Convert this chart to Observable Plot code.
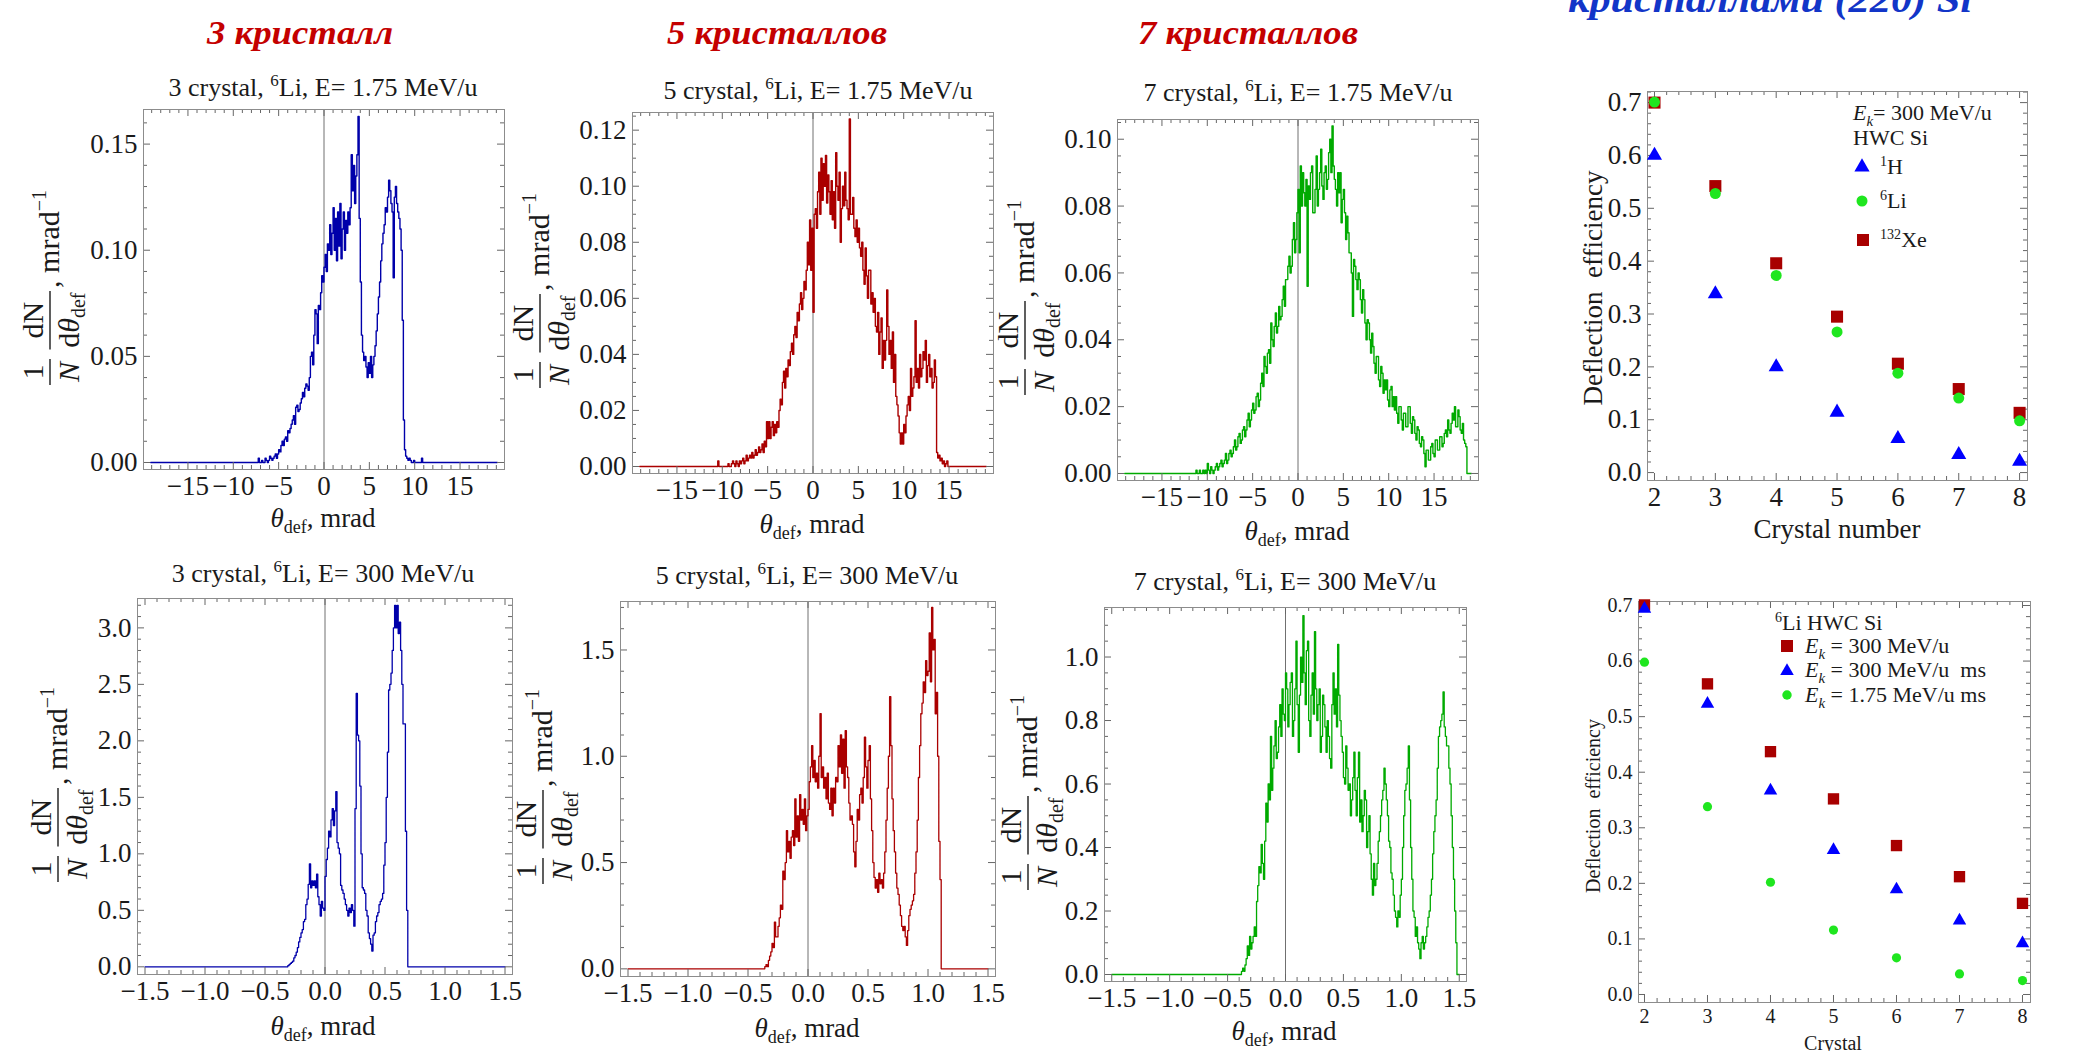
<!DOCTYPE html>
<html><head><meta charset="utf-8">
<script src="https://cdn.jsdelivr.net/npm/d3@7"></script>
<script src="https://cdn.jsdelivr.net/npm/@observablehq/plot@0.6"></script>
<style>
body{margin:0;background:#fff;}
#root{position:relative;width:2074px;height:1051px;overflow:hidden;background:#fff;}
#root svg{position:absolute;}
</style></head><body><div id="root"></div>
<script>
// ---------------- DATA ----------------
// Top row: 6Li, E = 1.75 MeV/u, histograms (bin start, bin width, values)
const p1Start = -7.5, p1Step = 0.125;
const p1Vals = [0,0,0.002,0,0,0.001,0,0,
 0.002,0.001,0,0.001,0.003,0.002,0.001,0.002,
 0.003,0.004,0.002,0.004,0.006,0.005,0.008,0.010,
 0.008,0.011,0.012,0.010,0.015,0.014,0.016,0.018,
 0.020,0.022,0.018,0.026,0.027,0.024,0.025,0.028,
 0.030,0.033,0.031,0.035,0.037,0.036,0.034,0.040,
 0.050,0.052,0.046,0.060,0.072,0.070,0.056,0.074,
 0.072,0.080,0.088,0.085,0.092,0.098,0.090,0.103,
 0.100,0.112,0.098,0.108,0.120,0.100,0.115,0.095,
 0.118,0.102,0.122,0.096,0.110,0.118,0.100,0.114,
 0.108,0.118,0.112,0.120,0.145,0.128,0.140,0.122,
 0.135,0.145,0.163,0.115,0.085,0.060,0.052,0.048,
 0.050,0.045,0.040,0.047,0.042,0.050,0.040,0.046,
 0.050,0.055,0.062,0.070,0.078,0.085,0.095,0.103,
 0.108,0.112,0.120,0.118,0.125,0.133,0.128,0.122,
 0.118,0.087,0.125,0.130,0.122,0.118,0.115,0.110,
 0.100,0.067,0.020,0.006,0.003,0.002,0.001,0.002,
 0.001,0,0,0.001,0,0,0,0,
 0,0,0.002,0];
const p2Start = -10.75, p2Step = 0.125;
const p2Vals = [0,0,0.002,0,0,0,0,0,
 0,0,0,0.001,0,0,0.001,0.002,
 0.001,0,0.002,0.001,0,0.002,0.001,0.002,
 0.003,0.001,0.002,0.004,0.002,0.003,0.004,0.003,
 0.005,0.003,0.004,0.006,0.004,0.005,0.007,0.005,
 0.006,0.008,0.005,0.009,0.007,0.016,0.010,0.016,
 0.010,0.014,0.016,0.011,0.015,0.012,0.016,0.014,
 0.020,0.024,0.022,0.030,0.034,0.028,0.035,0.032,
 0.038,0.036,0.041,0.044,0.040,0.047,0.050,0.046,
 0.055,0.052,0.058,0.062,0.056,0.060,0.066,0.063,
 0.070,0.080,0.072,0.088,0.070,0.085,0.055,0.090,
 0.092,0.085,0.098,0.105,0.090,0.110,0.095,0.108,
 0.100,0.111,0.094,0.104,0.098,0.090,0.102,0.088,
 0.098,0.085,0.112,0.100,0.095,0.105,0.080,0.092,
 0.100,0.093,0.105,0.095,0.092,0.088,0.124,0.090,
 0.090,0.096,0.085,0.082,0.088,0.080,0.085,0.078,
 0.075,0.080,0.070,0.065,0.078,0.068,0.060,0.070,
 0.070,0.058,0.062,0.055,0.060,0.050,0.048,0.055,
 0.040,0.048,0.053,0.035,0.045,0.038,0.045,0.063,
 0.050,0.040,0.045,0.035,0.048,0.030,0.040,0.025,
 0.022,0.018,0.012,0.008,0.012,0.008,0.015,0.012,
 0.018,0.022,0.025,0.020,0.035,0.025,0.028,0.032,
 0.052,0.030,0.035,0.028,0.040,0.032,0.035,0.041,
 0.038,0.045,0.030,0.036,0.040,0.032,0.035,0.028,
 0.030,0.038,0.032,0.005,0.003,0.004,0.002,0.003,
 0.001,0.002,0,0.001,0.002];
const p3Start = -11.25, p3Step = 0.125;
const p3Vals = [0.001,0,0,0.001,0,0,0.001,0,
 0.001,0,0.003,0.001,0,0.002,0.001,0,
 0.001,0.002,0.003,0.001,0.002,0.003,0.004,0.002,
 0.003,0.004,0.006,0.003,0.004,0.006,0.007,0.005,
 0.006,0.008,0.010,0.007,0.008,0.011,0.012,0.009,
 0.010,0.013,0.014,0.011,0.013,0.016,0.018,0.014,
 0.016,0.019,0.021,0.018,0.019,0.023,0.024,0.020,
 0.022,0.027,0.030,0.026,0.035,0.032,0.030,0.036,
 0.037,0.033,0.045,0.040,0.038,0.044,0.048,0.042,
 0.044,0.050,0.046,0.047,0.052,0.056,0.050,0.058,
 0.058,0.062,0.065,0.060,0.062,0.070,0.075,0.066,
 0.070,0.078,0.085,0.066,0.092,0.080,0.090,0.084,
 0.080,0.088,0.056,0.086,0.082,0.090,0.092,0.078,
 0.078,0.085,0.095,0.080,0.085,0.090,0.097,0.086,
 0.082,0.090,0.092,0.085,0.088,0.096,0.100,0.090,
 0.104,0.092,0.088,0.085,0.080,0.090,0.084,0.090,
 0.075,0.082,0.085,0.078,0.070,0.077,0.072,0.066,
 0.066,0.060,0.047,0.064,0.062,0.058,0.055,0.060,
 0.058,0.052,0.048,0.055,0.052,0.045,0.040,0.046,
 0.045,0.040,0.036,0.042,0.038,0.033,0.030,0.035,
 0.035,0.028,0.026,0.032,0.030,0.024,0.028,0.025,
 0.028,0.022,0.020,0.025,0.026,0.020,0.023,0.019,
 0.023,0.018,0.015,0.020,0.020,0.016,0.013,0.018,
 0.018,0.014,0.014,0.020,0.020,0.015,0.012,0.017,
 0.016,0.012,0.010,0.014,0.013,0.009,0.008,0.011,
 0.010,0.006,0.002,0.007,0.007,0.004,0.004,0.008,
 0.009,0.006,0.005,0.010,0.010,0.007,0.007,0.011,
 0.011,0.008,0.009,0.012,0.013,0.011,0.016,0.013,
 0.012,0.015,0.018,0.016,0.020,0.014,0.014,0.019,
 0.017,0.013,0.012,0.015,0.010,0.009,0.008];
// Bottom row: 6Li, E = 300 MeV/u
const p4Start = -0.31, p4Step = 0.01;
const p4Vals = [0.01,0.02,0.03,0.04,0.05,0.08,0.10,0.13,0.17,0.22,
 0.26,0.30,0.33,0.40,0.42,0.55,0.60,0.73,0.91,0.70,
 0.76,0.72,0.76,0.70,0.82,0.62,0.55,0.45,0.58,0.52,
 0.50,0.80,0.95,1.05,1.20,1.15,1.30,1.40,1.25,1.38,
 1.55,1.10,1.05,1.00,0.72,0.68,0.65,0.60,0.55,0.50,
 0.45,0.52,0.48,0.55,0.50,0.36,1.40,2.42,2.05,2.00,
 1.60,1.00,0.70,0.68,0.65,0.50,0.45,0.30,0.25,0.20,
 0.14,0.28,0.30,0.40,0.45,0.48,0.55,0.58,0.60,0.65,
 0.90,1.10,1.50,1.90,2.45,2.50,2.60,2.80,3.00,3.20,
 3.00,3.20,2.95,3.05,2.80,2.50,2.15,2.15,1.20,0.50];
const p5Start = -0.36, p5Step = 0.01;
const p5Vals = [0.01,0.02,0.01,0.04,0.06,0.08,0.12,0.10,0.22,0.15,
 0.15,0.20,0.24,0.30,0.28,0.46,0.42,0.50,0.65,0.55,
 0.60,0.52,0.62,0.65,0.58,0.80,0.62,0.72,0.60,0.82,
 0.70,0.75,0.68,0.80,0.65,0.72,0.75,0.88,0.95,1.05,
 0.90,0.98,0.88,0.92,0.85,1.00,1.20,0.90,0.95,0.85,
 0.90,0.80,0.92,0.78,0.75,0.85,0.72,0.85,0.78,0.90,
 0.88,1.05,0.95,1.10,0.92,1.08,0.85,1.12,0.95,0.90,
 0.78,0.70,0.72,0.68,0.55,0.48,0.60,0.75,0.70,0.82,
 0.85,0.78,0.90,1.09,0.95,0.85,0.98,1.05,0.80,0.65,
 0.50,0.43,0.38,0.42,0.36,0.45,0.40,0.42,0.38,0.45,
 0.55,0.70,0.85,1.00,1.28,1.05,0.80,0.65,0.55,0.45,
 0.38,0.35,0.30,0.25,0.20,0.18,0.20,0.15,0.11,0.18,
 0.25,0.28,0.30,0.32,0.35,0.45,0.55,0.70,0.90,1.05,
 1.20,1.25,1.35,1.30,1.45,1.38,1.40,1.58,1.35,1.70,
 1.50,1.55,1.20,1.30,1.00,0.60,0.42];
const p6Start = -0.38, p6Step = 0.01;
const p6Vals = [0.01,0.02,0.01,0.03,0.05,0.09,0.06,0.12,0.08,0.10,
 0.12,0.15,0.12,0.23,0.28,0.34,0.32,0.41,0.35,0.30,
 0.42,0.54,0.48,0.60,0.55,0.75,0.58,0.65,0.72,0.80,
 0.68,0.70,0.78,0.85,0.75,0.90,0.82,0.80,0.95,0.90,
 0.78,0.85,0.92,0.95,0.75,0.80,0.90,1.05,0.85,0.70,
 0.88,1.00,0.92,1.13,0.95,0.85,1.02,1.05,0.80,0.75,
 0.88,0.95,0.82,1.08,0.90,0.80,0.85,0.90,0.70,0.75,
 0.88,0.85,0.78,0.70,0.80,0.75,0.68,0.65,0.85,0.95,
 0.82,0.90,0.78,1.04,0.88,0.80,0.75,0.70,0.62,0.60,
 0.72,0.65,0.58,0.60,0.50,0.55,0.62,0.70,0.58,0.50,
 0.62,0.70,0.48,0.55,0.45,0.50,0.58,0.55,0.40,0.45,
 0.50,0.38,0.30,0.25,0.35,0.28,0.30,0.35,0.42,0.45,
 0.50,0.55,0.58,0.65,0.60,0.55,0.50,0.42,0.40,0.32,
 0.30,0.25,0.20,0.18,0.15,0.20,0.18,0.25,0.30,0.40,
 0.50,0.58,0.60,0.65,0.72,0.55,0.40,0.30,0.20,0.18,
 0.12,0.15,0.10,0.08,0.05,0.10,0.12,0.08,0.10,0.12,
 0.15,0.18,0.20,0.25,0.30,0.38,0.45,0.50,0.55,0.65,
 0.75,0.78,0.80,0.82,0.89,0.78,0.75,0.72,0.72,0.65,
 0.60,0.50,0.40,0.30,0.20,0.10];

// Deflection efficiency vs crystal number
const crystals = [2,3,4,5,6,7,8];
const effH = [0.600,0.338,0.200,0.114,0.064,0.034,0.021];      // 1H, 300 MeV/u
const effLi = [0.701,0.528,0.373,0.266,0.188,0.141,0.098];     // 6Li, 300 MeV/u
const effXe = [0.700,0.542,0.396,0.295,0.206,0.158,0.113];     // 132Xe, 300 MeV/u
const eff300 = [0.701,0.559,0.437,0.352,0.268,0.212,0.164];    // 6Li 300 MeV/u
const eff300ms = [0.694,0.523,0.367,0.260,0.189,0.133,0.092];  // 6Li 300 MeV/u ms
const eff175ms = [0.598,0.338,0.202,0.116,0.066,0.037,0.025];  // 6Li 1.75 MeV/u ms

const topXTicks = [-15,-10,-5,0,5,10,15];
const botXTicks = [-1.5,-1.0,-0.5,0,0.5,1.0,1.5];

// ---------------- HELPERS ----------------
const FONT = '"Liberation Serif","Times New Roman",serif';
const root = document.getElementById("root");

function rng(a, b, s) { const out = []; const n = Math.round((b - a) / s); for (let i = 0; i <= n; i++) out.push(+(a + i * s).toFixed(6)); return out; }
function minors(a, b, s, majors, dom) {
  return rng(a, b, s).filter(v => v >= dom[0] && v <= dom[1] && !majors.some(m => Math.abs(m - v) < 1e-9));
}
function histPoints(start, step, vals, lo, hi) {
  const pts = [{x: lo, y: 0}];
  vals.forEach((v, i) => pts.push({x: +(start + i * step).toFixed(4), y: v}));
  pts.push({x: +(start + vals.length * step).toFixed(4), y: 0});
  pts.push({x: hi, y: 0});
  return pts;
}
function tickMarks(xMaj, xMin, yMaj, yMin, fw, fh) {
  const st = {stroke: "#666", strokeWidth: 1};
  const M = 7, m = 4;
  return [
    Plot.tickX(xMaj, {...st, insetTop: fh - M}),
    Plot.tickX(xMaj, {...st, insetBottom: fh - M}),
    Plot.tickX(xMin, {...st, insetTop: fh - m}),
    Plot.tickX(xMin, {...st, insetBottom: fh - m}),
    Plot.tickY(yMaj, {...st, insetRight: fw - M}),
    Plot.tickY(yMaj, {...st, insetLeft: fw - M}),
    Plot.tickY(yMin, {...st, insetRight: fw - m}),
    Plot.tickY(yMin, {...st, insetLeft: fw - m})
  ];
}
function place(svg, left, top) { svg.style.left = left + "px"; svg.style.top = top + "px"; root.appendChild(svg); }

const fmtTopX = d => d < 0 ? "\u2212" + (-d) : String(d);
const fmtBotX = d => (d < 0 ? "\u2212" : "") + Math.abs(d).toFixed(1);

function histPanel(c) {
  const ml = 90, mr = 8, mt = 8, mb = 50;
  const fw = c.R - c.L, fh = c.B - c.T;
  const svg = Plot.plot({
    width: fw + ml + mr, height: fh + mt + mb,
    marginLeft: ml, marginRight: mr, marginTop: mt, marginBottom: mb,
    x: {domain: c.xdom, label: null}, y: {domain: c.ydom, label: null},
    style: {fontFamily: FONT, fontSize: "27px", color: "#1a1a1a", background: "transparent", overflow: "visible"},
    marks: [
      Plot.ruleX([0], {stroke: "#707070", strokeWidth: 1}),
      Plot.line(c.pts, {x: "x", y: "y", curve: "step-after", stroke: c.color, strokeWidth: c.sw || 1.3}),
      ...tickMarks(c.xMaj, c.xMin, c.yMaj, c.yMin, fw, fh),
      Plot.frame({stroke: "#8c8c8c"}),
      Plot.axisX(c.xMaj, {tickSize: 0, tickPadding: 6, tickFormat: c.xFmt, label: null}),
      Plot.axisY(c.yMaj, {tickSize: 0, tickPadding: 6, tickFormat: c.yFmt, label: null})
    ]
  });
  place(svg, c.L - ml, c.T - mt);
}

function scatterPanel(c) {
  const ml = 70, mr = 8, mt = 8, mb = 45;
  const fw = c.R - c.L, fh = c.B - c.T;
  const mk = arr => crystals.map((n, i) => ({n, v: arr[i]}));
  const svg = Plot.plot({
    width: fw + ml + mr, height: fh + mt + mb,
    marginLeft: ml, marginRight: mr, marginTop: mt, marginBottom: mb,
    x: {domain: c.xdom, label: null}, y: {domain: c.ydom, label: null},
    style: {fontFamily: FONT, fontSize: c.fs + "px", color: "#1a1a1a", background: "transparent", overflow: "visible"},
    marks: [
      ...tickMarks(crystals, minors(1.8, 8.2, 0.2, crystals, c.xdom), rng(0, 0.7, 0.1), minors(0, 0.72, 0.02, rng(0, 0.7, 0.1), c.ydom), fw, fh),
      Plot.frame({stroke: "#8c8c8c"}),
      ...c.series.map(s => Plot.dot(mk(s.vals), {x: "n", y: "v", symbol: s.symbol, r: s.r, fill: s.fill, stroke: "none"})),
      Plot.axisX(crystals, {tickSize: 0, tickPadding: 6, tickFormat: d => String(d), label: null}),
      Plot.axisY(rng(0, 0.7, 0.1), {tickSize: 0, tickPadding: 6, tickFormat: d => d.toFixed(1), label: null})
    ]
  });
  place(svg, c.L - ml, c.T - mt);
}

// ---------------- PANELS ----------------
const topDom = [-19.9, 19.9], botDom = [-1.5625, 1.5625];
const topXMin = minors(-19, 19, 1, topXTicks, topDom);
const botXMin = minors(-1.5, 1.5, 0.1, botXTicks, botDom);

histPanel({L: 143, T: 109, R: 504, B: 469, xdom: topDom, ydom: [-0.0033, 0.1663], sw: 1.4,
  xMaj: topXTicks, xMin: topXMin, yMaj: rng(0, 0.15, 0.05), yMin: minors(0, 0.16, 0.01, rng(0, 0.15, 0.05), [0, 0.166]),
  xFmt: fmtTopX, yFmt: d => d.toFixed(2), color: "#0000aa", pts: histPoints(p1Start, p1Step, p1Vals, -19.1, 19.1)});
histPanel({L: 632, T: 112, R: 993, B: 473, xdom: topDom, ydom: [-0.0025, 0.1263], sw: 1.4,
  xMaj: topXTicks, xMin: topXMin, yMaj: rng(0, 0.12, 0.02), yMin: minors(0, 0.125, 0.005, rng(0, 0.12, 0.02), [0, 0.126]),
  xFmt: fmtTopX, yFmt: d => d.toFixed(2), color: "#aa0000", pts: histPoints(p2Start, p2Step, p2Vals, -19.1, 19.1)});
histPanel({L: 1117, T: 119, R: 1478, B: 480, xdom: topDom, ydom: [-0.0021, 0.1059], sw: 1.4,
  xMaj: topXTicks, xMin: topXMin, yMaj: rng(0, 0.1, 0.02), yMin: minors(0, 0.105, 0.005, rng(0, 0.1, 0.02), [0, 0.1059]),
  xFmt: fmtTopX, yFmt: d => d.toFixed(2), color: "#00aa00", pts: histPoints(p3Start, p3Step, p3Vals, -19.1, 19.1)});
histPanel({L: 137, T: 598, R: 512, B: 974, xdom: botDom, ydom: [-0.068, 3.26],
  xMaj: botXTicks, xMin: botXMin, yMaj: rng(0, 3, 0.5), yMin: minors(0, 3.2, 0.1, rng(0, 3, 0.5), [0, 3.26]),
  xFmt: fmtBotX, yFmt: d => d.toFixed(1), color: "#0000aa", pts: histPoints(p4Start, p4Step, p4Vals, -1.5, 1.5)});
histPanel({L: 620, T: 601, R: 995, B: 976, xdom: botDom, ydom: [-0.036, 1.728],
  xMaj: botXTicks, xMin: botXMin, yMaj: rng(0, 1.5, 0.5), yMin: minors(0, 1.7, 0.1, rng(0, 1.5, 0.5), [0, 1.728]),
  xFmt: fmtBotX, yFmt: d => d.toFixed(1), color: "#aa0000", pts: histPoints(p5Start, p5Step, p5Vals, -1.5, 1.5)});
histPanel({L: 1104, T: 607, R: 1466, B: 981, xdom: botDom, ydom: [-0.022, 1.156],
  xMaj: botXTicks, xMin: botXMin, yMaj: rng(0, 1.0, 0.2), yMin: minors(0, 1.15, 0.05, rng(0, 1.0, 0.2), [0, 1.156]),
  xFmt: fmtBotX, yFmt: d => d.toFixed(1), color: "#00aa00", pts: histPoints(p6Start, p6Step, p6Vals, -1.5, 1.5)});

scatterPanel({L: 1647, T: 91, R: 2027, B: 480, xdom: [1.885, 8.13], ydom: [-0.015, 0.721], fs: 27,
  series: [
    {vals: effXe, symbol: "square", r: 6.8, fill: "#a80000"},
    {vals: effLi, symbol: "circle", r: 5.5, fill: "#1fe61f"},
    {vals: effH, symbol: "triangle", r: 5.6, fill: "#0000ff"}
  ]});
scatterPanel({L: 1638, T: 601, R: 2030, B: 1002, xdom: [1.905, 8.127], ydom: [-0.0144, 0.7072], fs: 20,
  series: [
    {vals: eff300, symbol: "square", r: 6.4, fill: "#a80000"},
    {vals: eff300ms, symbol: "triangle", r: 5.0, fill: "#0000ff"},
    {vals: eff175ms, symbol: "circle", r: 4.6, fill: "#1fe61f"}
  ]});

// ---------------- TEXT OVERLAY ----------------
const ov = d3.select(root).append("svg").attr("width", 2074).attr("height", 1051)
  .style("left", "0px").style("top", "0px").style("pointer-events", "none")
  .attr("font-family", FONT).attr("fill", "#1a1a1a");

// section titles
const titles = [
  {t: "3 кристалл", x: 300, y: 44, w: 186},
  {t: "5 кристаллов", x: 777, y: 44, w: 220},
  {t: "7 кристаллов", x: 1248, y: 44, w: 220}
];
titles.forEach(d => ov.append("text").attr("x", d.x).attr("y", d.y).attr("text-anchor", "middle")
  .attr("font-size", 34).attr("font-weight", "bold").attr("font-style", "italic").attr("fill", "#c40000")
  .attr("textLength", d.w).attr("lengthAdjust", "spacingAndGlyphs").text(d.t));
ov.append("text").attr("x", 1770).attr("y", 12).attr("text-anchor", "middle")
  .attr("font-size", 38).attr("font-weight", "bold").attr("font-style", "italic").attr("fill", "#1235c8")
  .attr("textLength", 404).attr("lengthAdjust", "spacingAndGlyphs").text("кристаллами (220) Si");

// panel subtitles
function subtitle(cx, y, n, e) {
  const t = ov.append("text").attr("x", cx).attr("y", y).attr("text-anchor", "middle").attr("font-size", 26);
  t.append("tspan").text(`${n} crystal, `);
  t.append("tspan").attr("font-size", 17).attr("dy", -10).text("6");
  t.append("tspan").attr("dy", 10).text(`Li, E= ${e} MeV/u`);
}
subtitle(323, 96, 3, "1.75"); subtitle(818, 99, 5, "1.75"); subtitle(1298, 101, 7, "1.75");
subtitle(323, 582, 3, "300"); subtitle(807, 584, 5, "300"); subtitle(1285, 590, 7, "300");

// x labels
function xLabel(cx, y) {
  const t = ov.append("text").attr("x", cx).attr("y", y).attr("text-anchor", "middle").attr("font-size", 27);
  t.append("tspan").attr("font-style", "italic").text("θ");
  t.append("tspan").attr("font-size", 18).attr("dy", 6).text("def");
  t.append("tspan").attr("dy", -6).text(", mrad");
}
xLabel(323, 527); xLabel(812, 533); xLabel(1297, 540);
xLabel(323, 1035); xLabel(807, 1037); xLabel(1284, 1040);

// y labels: 1/N dN/dθdef, mrad^-1 (rotated)
function yFrac(cx, cy, fs) {
  const g = ov.append("g").attr("transform", `translate(${cx},${cy}) rotate(-90)`).attr("font-size", fs);
  const sub = Math.round(fs * 0.66);
  const t1 = g.append("text").attr("text-anchor", "middle").text("1");
  const tN = g.append("text").attr("text-anchor", "middle").attr("font-style", "italic").text("N");
  const tdN = g.append("text").attr("text-anchor", "middle").text("dN");
  const tden = g.append("text").attr("text-anchor", "middle");
  tden.append("tspan").text("d");
  tden.append("tspan").attr("font-style", "italic").text("θ");
  tden.append("tspan").attr("font-size", sub).attr("dy", fs * 0.22).text("def");
  const tm = g.append("text");
  tm.append("tspan").text(", mrad");
  tm.append("tspan").attr("font-size", sub).attr("dy", -fs * 0.45).text("\u22121");
  const w = s => s.node().getBBox().width;
  const wa = Math.max(w(t1), w(tN)) + 5, wb = Math.max(w(tdN), w(tden)) + 5, wc = w(tm);
  const gap = fs * 0.25;
  let u = -(wa + gap + wb + wc) / 2;
  const ca = u + wa / 2; u += wa + gap;
  const cb = u + wb / 2; u += wb;
  const numY = -fs * 0.22, denY = fs * 0.95, restY = fs * 0.3;
  t1.attr("x", ca).attr("y", numY); tN.attr("x", ca).attr("y", denY);
  tdN.attr("x", cb).attr("y", numY); tden.attr("x", cb).attr("y", denY);
  tm.attr("x", u + 2).attr("y", restY);
  [[ca, wa], [cb, wb]].forEach(([c, ww]) => g.append("line").attr("x1", c - ww / 2 + 1).attr("x2", c + ww / 2 - 1)
    .attr("y1", 0).attr("y2", 0).attr("stroke", "#1a1a1a").attr("stroke-width", 1.4));
}
yFrac(50, 289, 30); yFrac(540, 292, 30); yFrac(1025, 299, 30);
yFrac(58, 786, 30); yFrac(543, 788, 30); yFrac(1028, 794, 30);

// scatter axis labels
ov.append("text").attr("x", 1837).attr("y", 538).attr("text-anchor", "middle").attr("font-size", 27).text("Crystal number");
ov.append("text").attr("transform", "translate(1602,288) rotate(-90)").attr("text-anchor", "middle").attr("font-size", 27).text("Deflection\u2002efficiency");
ov.append("text").attr("x", 1833).attr("y", 1050).attr("text-anchor", "middle").attr("font-size", 20).text("Crystal");
ov.append("text").attr("transform", "translate(1600,806) rotate(-90)").attr("text-anchor", "middle").attr("font-size", 20).text("Deflection\u2002efficiency");

// legends
const sym = (type, area) => d3.symbol().type(type).size(area)();
function legSym(x, y, type, area, fill) { ov.append("path").attr("d", sym(type, area)).attr("transform", `translate(${x},${y})`).attr("fill", fill); }
function ek(x, y, fs, rest) {
  const t = ov.append("text").attr("x", x).attr("y", y).attr("font-size", fs);
  t.append("tspan").attr("font-style", "italic").text("E");
  t.append("tspan").attr("font-style", "italic").attr("font-size", fs * 0.68).attr("dy", fs * 0.25).text("k");
  t.append("tspan").attr("dy", -fs * 0.25).text(rest);
}
function iso(x, y, fs, mass, el) {
  const t = ov.append("text").attr("x", x).attr("y", y).attr("font-size", fs);
  t.append("tspan").attr("font-size", fs * 0.64).attr("dy", -fs * 0.38).text(mass);
  t.append("tspan").attr("dy", fs * 0.38).text(el);
}
ek(1853, 120, 22, "= 300 MeV/u");
ov.append("text").attr("x", 1853).attr("y", 145).attr("font-size", 22).text("HWC Si");
legSym(1862, 167, d3.symbolTriangle, 100, "#0000ff"); iso(1880, 174, 22, "1", "H");
legSym(1862, 201, d3.symbolCircle, 95, "#1fe61f"); iso(1880, 208, 22, "6", "Li");
legSym(1863, 240, d3.symbolSquare, 144, "#a80000"); iso(1880, 247, 22, "132", "Xe");

iso(1775, 630, 22, "6", "Li HWC Si");
legSym(1787, 646, d3.symbolSquare, 144, "#a80000"); ek(1805, 653, 22, " = 300 MeV/u");
legSym(1787, 671, d3.symbolTriangle, 80, "#0000ff"); ek(1805, 677, 22, " = 300 MeV/u\u2002ms");
legSym(1787, 695, d3.symbolCircle, 70, "#1fe61f"); ek(1805, 702, 22, " = 1.75 MeV/u ms");
</script>
</body></html>
